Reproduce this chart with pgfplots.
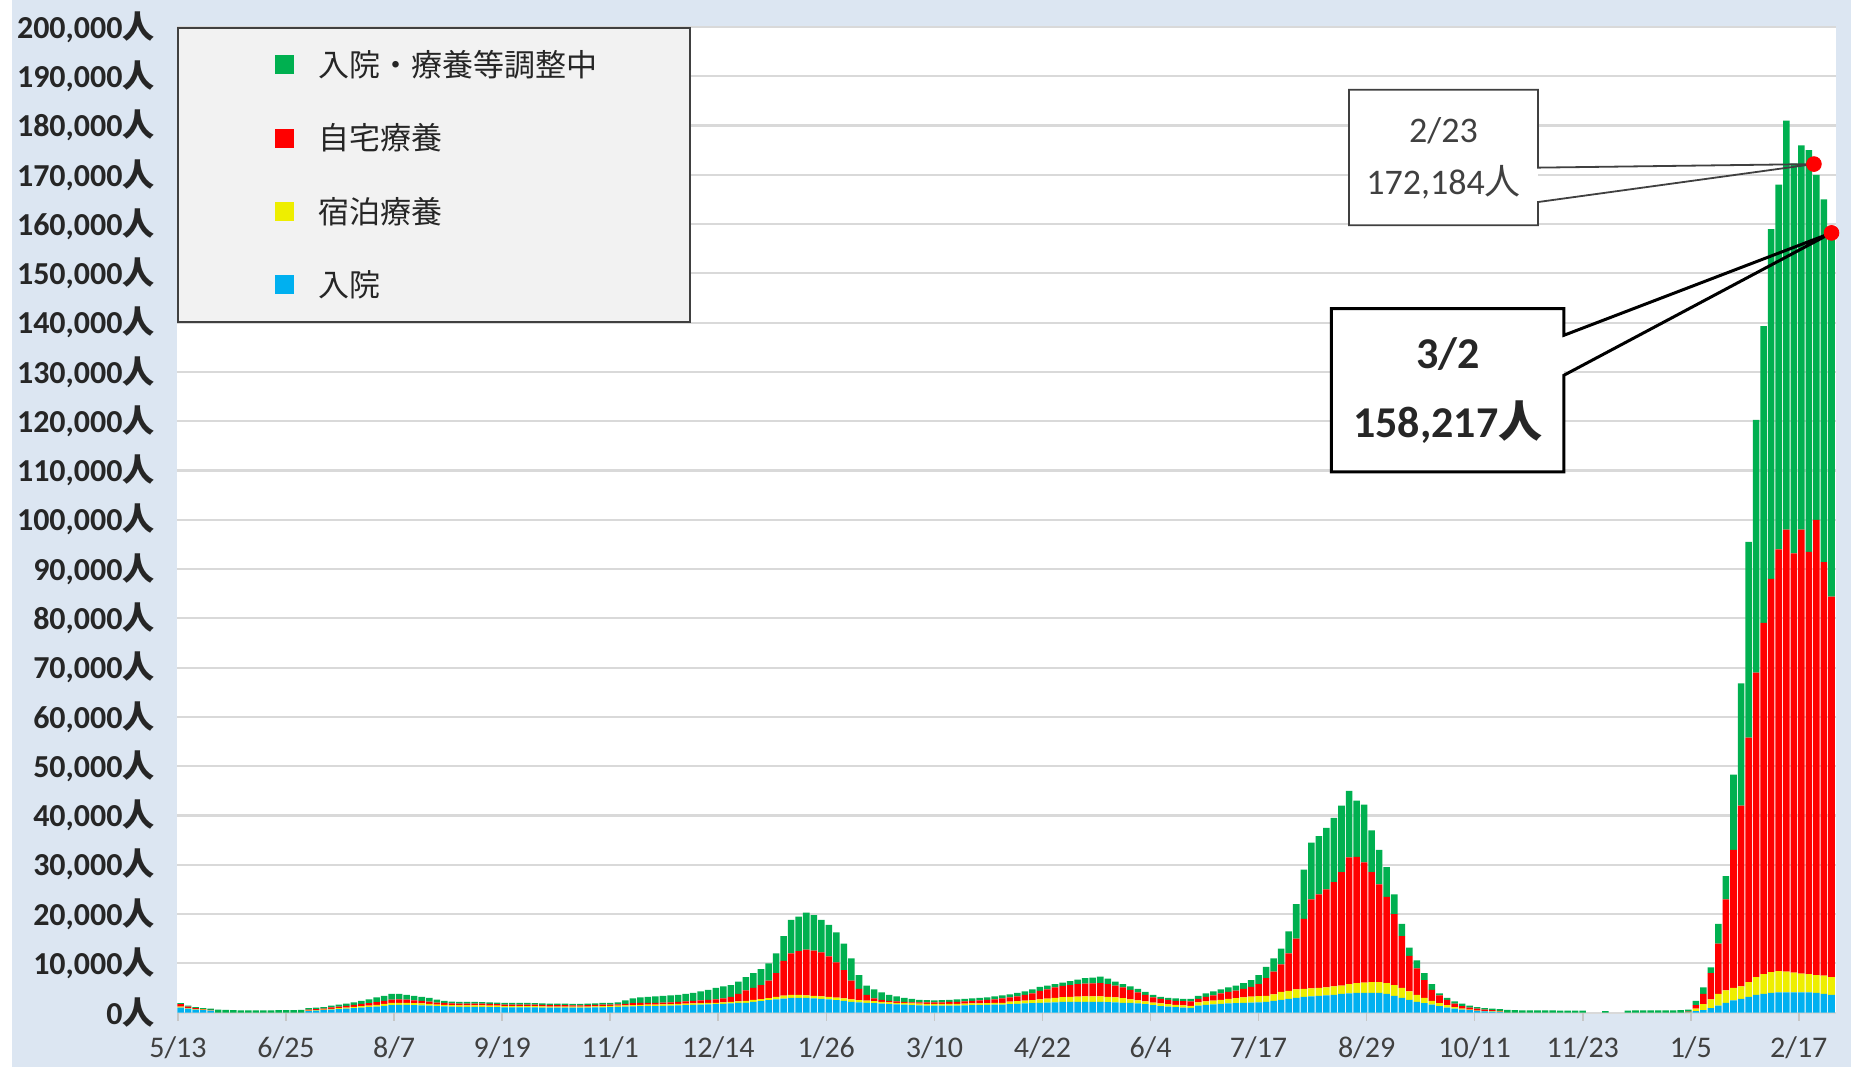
\documentclass[border=0pt]{standalone}
\usepackage{fontspec}
\usepackage{pgfplots}
\usepackage{pgfplotstable}
\pgfplotsset{compat=1.18}
\setmainfont{Carlito}
\newfontfamily\cjk{Noto Sans CJK JP}
\definecolor{bg}{HTML}{DCE6F2}
\definecolor{cblue}{HTML}{00B0F0}
\definecolor{cyellow}{HTML}{EEEE00}
\definecolor{cred}{HTML}{FF0000}
\definecolor{cgreen}{HTML}{00B050}
\definecolor{gridgray}{HTML}{D9D9D9}
\definecolor{legfill}{HTML}{F2F2F2}
\definecolor{legdraw}{HTML}{404040}
\definecolor{txt}{HTML}{262626}
\definecolor{txtgray}{HTML}{404040}

\pgfplotstableread{
d B Y R G
1 1000 200 500 200
4 800 100 300 200
7 600 100 200 200
10 500 100 100 200
13 400 50 100 250
16 0 0 0 600
19 0 0 0 550
22 0 0 0 500
25 0 0 0 450
28 0 0 0 450
31 0 0 0 450
34 0 0 0 450
37 0 0 0 450
40 0 0 0 500
43 0 0 0 500
46 0 0 0 500
49 0 0 0 550
52 300 100 200 300
55 400 100 200 300
58 500 100 200 300
61 600 150 300 350
64 700 200 300 400
67 800 200 350 450
70 900 250 400 550
73 1000 300 450 650
76 1100 300 500 800
79 1200 350 600 950
82 1350 400 650 1000
85 1500 450 700 1150
88 1550 450 700 1100
91 1550 450 650 950
94 1500 400 600 900
97 1450 400 550 800
100 1400 350 500 750
103 1300 300 450 600
106 1250 300 400 450
109 1200 300 350 400
112 1150 300 350 400
115 1150 300 350 400
118 1150 300 350 400
121 1150 300 350 350
124 1100 300 350 350
127 1100 300 300 350
130 1050 250 300 350
133 1050 250 300 350
136 1050 250 300 350
139 1050 250 300 350
142 1050 250 300 300
145 1000 250 300 300
148 1000 200 300 300
151 1000 200 300 300
154 1000 200 300 300
157 1000 200 250 300
160 1000 200 250 300
163 1000 200 300 300
166 1050 200 300 300
169 1050 250 300 350
172 1100 250 250 400
175 1150 250 250 450
178 1200 250 300 750
181 1250 250 400 1000
184 1300 250 400 1150
187 1300 300 400 1200
190 1300 300 400 1300
193 1350 300 400 1350
196 1400 300 400 1400
199 1450 300 450 1400
202 1500 300 500 1500
205 1550 300 550 1600
208 1600 300 600 1800
211 1650 300 650 2000
214 1700 300 700 2300
217 1750 350 800 2400
220 1850 350 1000 2400
223 1950 350 1500 2500
226 2000 400 2100 2700
229 2200 400 2400 3000
232 2350 400 2850 3200
235 2550 400 3550 3500
238 2700 500 4800 4000
241 2850 600 7050 5000
244 3000 600 8400 6800
247 3000 600 8900 7000
250 3000 500 9300 7500
253 2900 500 9200 7200
256 2800 500 8900 6600
259 2700 500 8200 6400
262 2550 500 7150 6100
265 2400 500 5700 5400
268 2200 500 3800 4500
271 2100 450 2250 2800
274 2000 450 1150 1900
277 1900 450 550 1800
280 1800 400 400 1500
283 1700 400 300 1200
286 1650 350 300 1000
289 1600 350 250 800
292 1500 350 250 700
295 1450 350 300 500
298 1400 350 350 450
301 1400 350 350 400
304 1400 350 350 450
307 1400 350 450 400
310 1400 350 450 500
313 1450 350 500 500
316 1500 350 550 500
319 1500 350 650 500
322 1550 350 700 500
325 1600 350 750 600
328 1600 400 900 600
331 1700 550 850 600
334 1750 600 950 700
337 1850 600 1150 700
340 1900 650 1350 800
343 2000 700 1700 800
346 2050 800 1850 800
349 2100 900 2100 700
352 2200 950 2250 700
355 2200 1000 2400 800
358 2200 1050 2550 900
361 2200 1100 2600 1100
364 2200 1100 2650 1150
367 2200 1100 2700 1300
370 2150 1050 2600 1100
373 2100 1000 2400 800
376 2000 950 2150 700
379 1950 750 1900 700
382 1850 650 1600 700
385 1700 600 1300 600
388 1500 550 1050 500
391 1300 550 950 400
394 1200 500 900 400
397 1100 450 850 500
400 1000 450 900 450
403 950 400 950 500
406 1400 700 700 600
409 1550 750 900 700
412 1650 800 1050 800
415 1750 850 1300 800
418 1850 950 1400 900
421 1900 1050 1500 1050
424 2000 1100 1700 1200
427 2050 1200 1950 1400
430 2100 1250 2450 1800
433 2200 1200 3600 2300
436 2400 1300 4600 2700
439 2600 1600 5600 3200
442 2800 1600 7600 4500
445 3000 1700 10300 7000
448 3200 1600 14200 10000
451 3300 1600 18100 11500
454 3400 1600 19000 11800
457 3500 1600 19900 12500
460 3600 1700 21200 13000
463 3800 1700 23000 13500
466 3900 1900 25700 13500
469 4000 2000 25600 11400
472 4000 2100 24400 11700
475 4000 2200 22300 8500
478 4000 2200 19800 7000
481 3800 2200 17500 6000
484 3400 2200 14400 4000
487 3000 2000 10500 2500
490 2600 1700 7200 1700
493 2200 1400 5400 1600
496 1900 1100 3600 1400
499 1600 800 2200 1200
502 1300 600 1600 400
505 1000 500 1100 400
508 800 300 700 500
511 600 200 500 500
514 500 100 400 400
517 350 50 400 300
520 250 50 300 300
523 200 100 200 300
526 150 50 150 350
529 0 0 0 550
532 0 0 0 500
535 0 0 0 450
538 0 0 0 450
541 0 0 0 450
544 0 0 0 450
547 0 0 0 450
550 0 0 0 400
553 0 0 0 400
556 0 0 0 400
559 0 0 0 400
562 0 0 0 0
565 0 0 0 0
568 0 0 0 300
571 0 0 0 0
574 0 0 0 0
577 0 0 0 400
580 0 0 0 450
583 0 0 0 450
586 0 0 0 450
589 0 0 0 450
592 0 0 0 450
595 0 0 0 450
598 0 0 0 500
601 50 50 100 400
604 300 500 700 900
607 500 1200 2100 1300
610 900 1800 5300 1200
613 1400 2400 10200 4000
616 2000 2500 18500 4700
619 2500 2500 28000 15300
622 2800 2500 36700 24800
625 3200 3000 49600 39700
628 3600 3600 61800 51300
631 3800 4000 71300 60200
634 4000 4200 79800 71000
637 4100 4300 85600 74000
640 4100 4200 89700 83000
643 4100 4000 85100 79100
646 4100 3800 90100 78000
649 4100 3700 85700 81500
652 4000 3600 92400 70000
655 3800 3700 83900 73600
658 3600 3600 77200 73817
}\data

\begin{document}
\begin{tikzpicture}
\useasboundingbox (0,0) rectangle (925.5pt,533.5pt);
\fill[bg] (0,0) rectangle (925.5pt,533.5pt);
\fill[white] (0,0) rectangle (6pt,533.5pt);
\begin{axis}[
  at={(88.5pt,27.2pt)}, anchor=south west,
  scale only axis, width=829.5pt, height=492.8pt,
  xmin=-0.4, xmax=659.8, ymin=0, ymax=200000,
  ybar stacked, bar width=2.6,
  axis background/.style={fill=white},
  axis line style={draw=none},
  ymajorgrids, major grid style={gridgray, line width=1.1pt},
  xtick={0,43,...,645},
  xticklabels={5/13,6/25,8/7,9/19,11/1,12/14,1/26,3/10,4/22,6/4,7/17,8/29,10/11,11/23,1/5,2/17},
  ytick={0,10000,...,200000},
  scaled y ticks=false,
  yticklabel={\pgfmathprintnumber[assume math mode=true, fixed, 1000 sep={,}]{\tick}{\cjk 人}},
  ytick style={draw=none},
  xtick pos=bottom, tick align=outside, major tick length=4pt,
  xtick style={draw=gray!45, line width=0.8pt},
  yticklabel style={font=\bfseries\fontsize{16pt}{19pt}\selectfont, text=txt, inner sep=0pt, anchor=east, xshift=-7pt},
  xticklabel style={font=\fontsize{15pt}{18pt}\selectfont, text=txtgray, inner sep=0pt, anchor=north, yshift=-8pt},
  legend style={at={(0,1)}, anchor=north west, draw=legdraw, line width=1pt, fill=legfill,
    inner xsep=0pt, inner ysep=0pt, row sep=0pt, column sep=0pt,
    font=\cjk\fontsize{15.5pt}{18pt}\selectfont, text=txt,
    cells={anchor=west}, nodes={inner sep=0pt, minimum height=36.7pt}},
  legend image code/.code={\path (0pt,0pt) (70pt,0pt); \fill[#1, draw=none] (48.5pt,-4.75pt) rectangle (58pt,4.75pt);},
  reverse legend,
]
\addplot[fill=cblue, draw=none] table[x=d, y=B] {\data};
\addplot[fill=cyellow, draw=none] table[x=d, y=Y] {\data};
\addplot[fill=cred, draw=none] table[x=d, y=R] {\data};
\addplot[fill=cgreen, draw=none] table[x=d, y=G] {\data};
\legend{\makebox[186pt][l]{入院},\makebox[186pt][l]{宿泊療養},\makebox[186pt][l]{自宅療養},\makebox[186pt][l]{入院・療養等調整中}}
\end{axis}
\begin{axis}[
  at={(88.5pt,27.2pt)}, anchor=south west,
  scale only axis, width=829.5pt, height=492.8pt,
  xmin=-0.4, xmax=659.8, ymin=0, ymax=200000,
  hide axis, clip=false,
]
\fill[white] (axis cs:466,187280) rectangle (axis cs:541.2,159760);
\draw[txtgray, line width=0.9pt, line join=miter] (axis cs:541.2,171460) -- (axis cs:541.2,187280) -- (axis cs:466,187280) -- (axis cs:466,159760) -- (axis cs:541.2,159760) -- (axis cs:541.2,164480) -- (axis cs:651,172184) -- cycle;
\node[font=\fontsize{18pt}{21pt}\selectfont, text=txtgray] at (axis cs:503.6,179000) {2/23};
\node[font=\fontsize{18pt}{21pt}\selectfont, text=txtgray] at (axis cs:503.6,168500) {172,184{\cjk 人}};
\fill[white] (axis cs:459,142860) rectangle (axis cs:551.5,109720);
\draw[black, line width=1.5pt, line join=miter] (axis cs:551.5,137440) -- (axis cs:551.5,142860) -- (axis cs:459,142860) -- (axis cs:459,109720) -- (axis cs:551.5,109720) -- (axis cs:551.5,129330) -- (axis cs:658,158217) -- cycle;
\node[font=\bfseries\fontsize{22pt}{26pt}\selectfont, text=txt] at (axis cs:505.3,133700) {3/2};
\node[font=\bfseries\fontsize{22pt}{26pt}\selectfont, text=txt] at (axis cs:505.3,119900) {158,217{\cjk 人}};
\addplot[only marks, mark=*, mark size=3.7pt, color=cred] coordinates {(651,172184) (658,158217)};
\end{axis}
\end{tikzpicture}
\end{document}
